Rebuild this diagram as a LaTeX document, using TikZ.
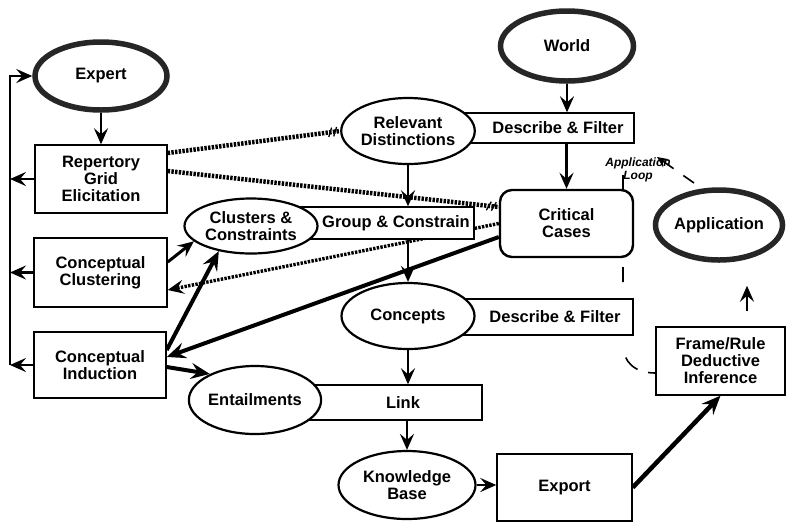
\documentclass[tikz,border=0pt]{standalone}
\usepackage{fontspec}
\setmainfont{Liberation Sans}
\usetikzlibrary{arrows.meta,shapes.geometric,decorations.markings,calc}
\pgfdeclarelayer{links}
\pgfsetlayers{links,main}

\begin{document}
\begin{tikzpicture}[x=1pt,y=-1pt,
  font=\fontsize{16.5}{17}\selectfont\bfseries,
  every node/.style={inner sep=0pt, align=center},
  source/.style={ellipse, draw=black!85, line width=5.5pt, fill=white},
  term/.style={ellipse, draw, line width=2.2pt, fill=white},
  proc/.style={rectangle, draw, line width=1.4pt, fill=white},
  casebox/.style={rectangle, rounded corners=12pt, draw, line width=2.4pt, fill=white},
  headtip/.style={-{Stealth[length=16pt,width=14pt,inset=6pt]}},
  bighead/.style={-{Stealth[length=19pt,width=16pt,inset=7pt]}},
  flow/.style={headtip, line width=2.6pt},
  heavy/.style={bighead, line width=4pt},
  hatch/.style={line width=4.5pt, dash pattern=on 2.4pt off 1.3pt},
  cut/.style={postaction={decorate}, decoration={markings, mark=at position 1 with {\draw[solid, line width=1.3pt] (-12pt,-4.5pt) -- (-8pt,4.5pt) (-7pt,-4.5pt) -- (-3pt,4.5pt);}}},
  loopline/.style={line width=1.6pt},
]
\useasboundingbox (0,0) rectangle (786,523);

% ---- process boxes (drawn first so the ellipses overlap their left ends)
\node[proc, minimum width=132pt, minimum height=68pt] (rep) at (101,179) {Repertory\\Grid\\Elicitation};
\node[proc, minimum width=133pt, minimum height=69pt] (cclus) at (100.5,272.5) {Conceptual\\Clustering};
\node[proc, minimum width=132pt, minimum height=66pt] (cind) at (100,365) {Conceptual\\Induction};

\node[proc, minimum width=179pt, minimum height=30pt] (dfa) at (544.5,128) {};
\node (dfatext) at (558,128) {Describe \& Filter};
\node[proc, minimum width=184pt, minimum height=32pt] (gc) at (382,223) {};
\node (gctext) at (396,223) {Group \& Constrain};
\node[proc, minimum width=178pt, minimum height=36pt] (dfb) at (544,317) {};
\node (dfbtext) at (555,317) {Describe \& Filter};
\node[proc, minimum width=182pt, minimum height=35pt] (link) at (391,402.5) {};
\node (linktext) at (403,403) {Link};

\node[casebox, minimum width=133pt, minimum height=67pt] (crit) at (566.5,223.5) {Critical\\Cases};
\node[proc, minimum width=129pt, minimum height=68pt] (frame) at (720.5,361) {Frame/Rule\\Deductive\\Inference};
\node[proc, minimum width=135pt, minimum height=67pt] (export) at (564.5,487.5) {Export};

% ---- ellipses
\node[source, minimum width=132pt, minimum height=68pt] (expert) at (101,76) {Expert};
\node[source, minimum width=133pt, minimum height=70pt] (world) at (567,46) {World};
\node[source, minimum width=127pt, minimum height=70pt] (app) at (719,225) {Application};
\node[term, minimum width=131pt, minimum height=66pt] (reldist) at (408,131) {Relevant\\Distinctions};
\node[term, minimum width=133pt, minimum height=55pt] (clusters) at (251,226) {Clusters \&\\Constraints};
\node[term, minimum width=133pt, minimum height=66pt] (concepts) at (408,316) {Concepts};
\node[term, minimum width=132pt, minimum height=68pt] (entail) at (255,400) {Entailments};
\node[term, minimum width=137pt, minimum height=68pt] (kb) at (407,485) {Knowledge\\Base};

\node[font=\fontsize{12}{13}\selectfont\bfseries\itshape] (looplabel) at (638,170) {Application\\Loop};

% ---- connectors, kept beneath the shapes
\coordinate (bus) at (10,365);
\coordinate (fx) at (747,0);
\coordinate (loopa) at (694,183);
\coordinate (loopb) at (657,157);
\coordinate (loopc) at (623,175);
\coordinate (loopd) at (623,345);

\begin{pgfonlayer}{links}
  % hatched links
  \draw[hatch, cut] ($(rep.east)+(0,-26)$) -- (reldist.west);
  \draw[hatch, cut] ($(rep.east)+(0,-8)$) -- ($(crit.west)+(0,-16.5)$);
  \draw[hatch, headtip, line width=3.4pt] (crit.west) -- ($(cclus.east)+(0,17.5)$);

  % main flow
  \draw[flow] (expert) -- (rep);
  \draw[flow] (world.south) -- (world.south |- dfa.north);
  \draw[flow] (crit.north |- dfa.south) -- (crit.north);
  \draw[flow] (reldist.south) -- (reldist.south |- gc.north);
  \draw[flow] (concepts.north |- gc.south) -- (concepts.north);
  \draw[flow] (concepts.south) -- (concepts.south |- link.north);
  \draw[flow] (kb.north |- link.south) -- (kb.north);
  \draw[flow] (kb.east) -- (export.west |- kb.east);
  \draw[heavy, line width=4.5pt] (export.east) -- (frame.south);
  \draw[flow, line width=2pt, shorten <=15pt, shorten >=23pt] (frame.north -| fx) -- (app.south -| fx);

  \draw[heavy] ($(crit.west)+(0,13.5)$) -- ($(cind.east)+(0,-8)$);
  \draw[flow, line width=3pt] ($(cclus.east)+(0,-10.5)$) -- (clusters.195);
  \draw[heavy] ($(cind.east)+(0,-15)$) -- (clusters.218);
  \draw[heavy] ($(cind.east)+(0,2)$) -- (entail.150);

  % feedback bus to the expert
  \draw[flow] (rep.west) -- (rep.west -| bus);
  \draw[flow] (cclus.west) -- (cclus.west -| bus);
  \draw[flow] (cind.west) -- (bus);
  \draw[flow] (bus) |- (expert.west);

  % application loop
  \draw[loopline, dash pattern=on 13pt off 12pt on 40pt, -{Stealth[length=11pt,width=10pt,inset=4pt]}] (loopa) -- (loopb);
  \draw[loopline, dash pattern=on 15pt off 77pt on 15pt off 76pt on 17pt off 11pt on 10pt]
    (loopc) -- (loopd) .. controls (623,362) and (635,373) .. ($(frame.west)+(0,12)$);
\end{pgfonlayer}
\end{tikzpicture}
\end{document}
